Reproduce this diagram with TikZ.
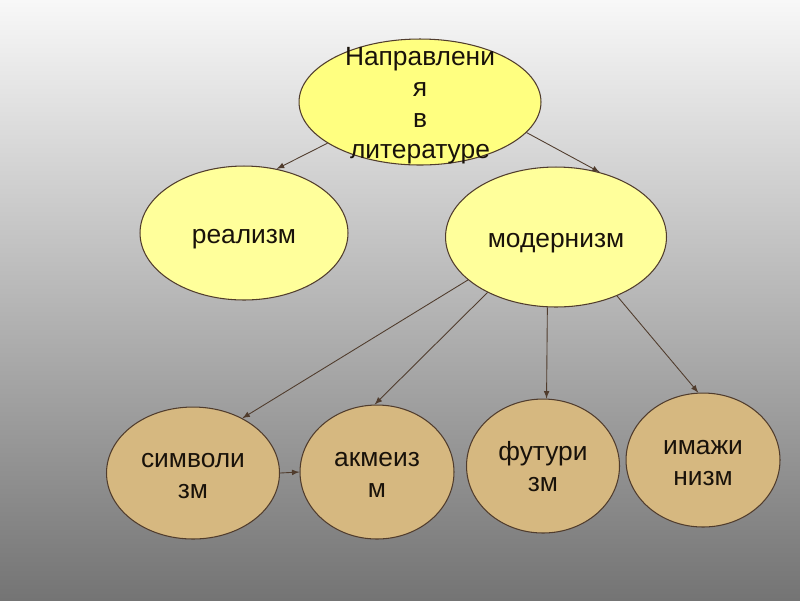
\documentclass[tikz,border=0pt]{standalone}
\usepackage{fontspec}
\setmainfont{Liberation Sans}
\usetikzlibrary{positioning,arrows,shapes.geometric}
\definecolor{bgtop}{RGB}{248,248,248}
\definecolor{bgbot}{RGB}{116,116,116}
\definecolor{topfill}{RGB}{255,255,128}
\definecolor{midfill}{RGB}{255,255,155}
\definecolor{lowfill}{RGB}{214,184,128}
\definecolor{linecol}{RGB}{80,60,45}
\definecolor{txtcol}{RGB}{25,18,10}
\newcommand{\ovalfont}{\fontsize{15}{17.6}\selectfont}

\begin{document}
\begin{tikzpicture}[x=0.02cm,y=-0.02cm]
 \tikzset{arrow/.style={-latex,draw=linecol,line width=0.5pt},
   ovaltext/.style={font=\ovalfont,align=center,text=txtcol,text depth=0cm},
   oneline/.style={text height=0.4cm},
   twoline/.style={text height=1.02cm},
   fourline/.style={text height=2.26cm},
   oval/.style={ellipse,draw=linecol,line width=0.6pt,inner sep=0pt,ovaltext},
   midoval/.style={oval,oneline,fill=midfill,minimum height=2.72cm},
   lowoval/.style={oval,twoline,fill=lowfill,minimum width=3.08cm,minimum height=2.68cm}}
 \shade[top color=bgtop,bottom color=bgbot] (0,0) rectangle (800,600);

 \node[oval,fill=topfill,minimum width=4.84cm,minimum height=2.52cm,
   label={[ovaltext,fourline,inner sep=0pt]center:Направлени\\я\\в\\литературе}] (N) at (420,102) {};
 \node[midoval,minimum width=4.16cm,minimum height=2.68cm] (R) at (244,233) {реализм};
 \node[midoval,minimum width=4.42cm,minimum height=2.8cm] (M) at (556,237) {модернизм};

 \node[lowoval,minimum width=3.46cm,minimum height=2.64cm] (S) at (193,473) {символи\\зм};
 \node[lowoval] (A) at (377,472) {акмеиз\\м};
 \node[lowoval,minimum width=3.06cm] (F) at (543,466) {футури\\зм};
 \node[lowoval] (I) at (703,460) {имажи\\низм};

 \draw[arrow] (N.204) -- (R.63);
 \draw[arrow] (N.344) -- (M.56);
 \draw[arrow] (M.206) -- (S.48);
 \draw[arrow] (M.219) -- (A.92);
 \draw[arrow] (M.263) -- (F.87);
 \draw[arrow] (M.316) -- (I.94);
 \draw[arrow] (S.east) -- (A.west);
\end{tikzpicture}
\end{document}
